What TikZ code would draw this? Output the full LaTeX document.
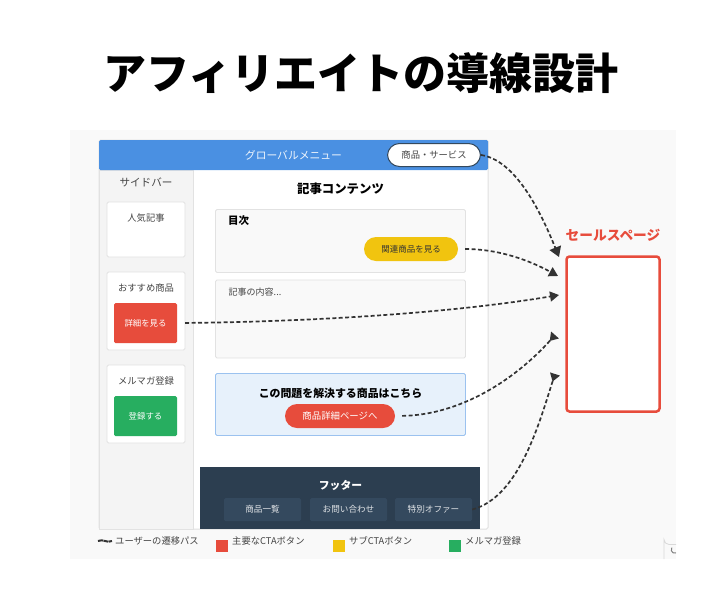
\documentclass[tikz,border=0pt]{standalone}
\usepackage{fontspec}
\setmainfont{Noto Sans CJK JP}
\usepackage{xcolor}
\usepackage{tikz}
\usetikzlibrary{arrows.meta,shapes}
\definecolor{bluehead}{HTML}{4A90E2}
\definecolor{ctared}{HTML}{E74C3C}
\definecolor{ctayellow}{HTML}{F1C40F}
\definecolor{ctagreen}{HTML}{27AE60}
\definecolor{footdark}{HTML}{2C3E50}
\definecolor{footbtn}{HTML}{34495E}
\definecolor{linegray}{HTML}{E2E2E2}
\definecolor{textgray}{HTML}{444444}
\newcommand{\pxfont}[1]{\fontsize{#1}{#1}\selectfont}
\tikzset{
  card/.style={draw=linegray,fill=white,rounded corners=1.5pt,line width=0.8pt,inner sep=0pt},
  softbox/.style={draw=linegray,fill=black!2.5,rounded corners=1.5pt,line width=0.8pt,inner sep=0pt},
  btn/.style={rounded corners=1.5pt,text=white,inner sep=0pt,font=\pxfont{8.4}},
  pill/.style={rounded corners=12pt,inner sep=0pt,font=\pxfont{8.5}},
  foot/.style={fill=footbtn,text=white!85!footbtn,rounded corners=1.5pt,inner sep=0pt,minimum width=77pt,minimum height=23pt,font=\pxfont{8.6}},
  lab/.style={text=textgray,inner sep=0pt,font=\pxfont{9.3}},
  key/.style={inner sep=0pt,minimum size=12pt},
  path/.style={draw=black!80,line width=1.7pt,dash pattern=on 4pt off 2.4pt},
  tip/.style={-{Triangle[length=9pt,width=10pt]}},
  tipbig/.style={-{Triangle[length=10pt,width=12pt]}},
  tipback/.style={-{Triangle[reversed,length=8pt,width=10pt]}}
}
\begin{document}
\begin{tikzpicture}[x=1pt,y=-1pt]
\useasboundingbox (0,0) rectangle (720,600);
\fill[white] (0,0) rectangle (720,600);
\fill[black!2.5] (70,130) rectangle (676,559);
\node (title) at (361,73) {\pxfont{43}\bfseries アフィリエイトの導線設計};

\node (page) [draw=black!12,fill=white,rounded corners=1.5pt,line width=1pt,minimum width=389pt,minimum height=389pt,inner sep=0pt] at (293.5,334.5) {};
\node (sidebar) [draw=linegray,fill=black!4.5,line width=0.6pt,minimum width=94pt,minimum height=359pt,inner sep=0pt] at (146,349.5) {};
\node (header) [fill=bluehead,rounded corners=1.5pt,minimum width=389pt,minimum height=30pt,inner sep=0pt] at (293.5,155) {};
\node (menu) [text=white!90!bluehead,inner sep=0pt,font=\pxfont{10.8}] at (293.5,155) {グローバルメニュー};
\node (service) [pill,draw=footbtn,line width=1pt,fill=white,text=textgray,minimum width=93pt,minimum height=23pt,font=\pxfont{9.3}] at (434,155) {商品・サービス};

\node (sidetitle) [lab,font=\pxfont{10.6}] at (146,182) {サイドバー};
\node (popular) [card,minimum width=78pt,minimum height=55pt] at (146,229.5) {};
\node (populartext) [lab] at (146,218) {人気記事};
\node (recommend) [card,minimum width=78pt,minimum height=78pt] at (146,311) {};
\node (recommendtext) [lab] at (146,288) {おすすめ商品};
\node (detail) [btn,fill=ctared,minimum width=63pt,minimum height=40pt] at (145.5,323) {詳細を見る};
\node (mail) [card,minimum width=78pt,minimum height=78pt] at (146,404) {};
\node (mailtext) [lab] at (146,381) {メルマガ登録};
\node (signup) [btn,fill=ctagreen,minimum width=63pt,minimum height=40pt] at (145.5,416) {登録する};

\node (article) [inner sep=0pt,font=\pxfont{12.4}\bfseries] at (340.5,189) {記事コンテンツ};
\node (toc) [softbox,minimum width=250pt,minimum height=63pt] at (340.5,241) {};
\node (toctext) [inner sep=0pt,font=\pxfont{10.5}\bfseries] at (238.5,221) {目次};
\node (related) [pill,fill=ctayellow,text=black!80,minimum width=94pt,minimum height=24pt] at (411,249) {関連商品を見る};
\node (body) [softbox,minimum width=250pt,minimum height=78pt] at (340.5,319) {};
\node (bodytext) [lab,font=\pxfont{9}] at (255,292) {記事の内容...};
\node (cta) [draw=bluehead!55,fill=bluehead!13,rounded corners=1.5pt,line width=0.8pt,minimum width=250pt,minimum height=62pt,inner sep=0pt] at (340.5,404.5) {};
\node (ctatext) [inner sep=0pt,font=\pxfont{10.9}\bfseries] at (340.5,393) {この問題を解決する商品はこちら};
\node (ctabtn) [pill,fill=ctared,text=white,minimum width=110pt,minimum height=24pt,font=\pxfont{9.4}] at (340,416) {商品詳細ページへ};

\node (footer) [fill=footdark,minimum width=280pt,minimum height=62pt,inner sep=0pt] at (340,498) {};
\node (foottext) [text=white,inner sep=0pt,font=\pxfont{10.8}\bfseries] at (340.5,485) {フッター};
\node (foot1) [foot] at (262.5,509.5) {商品一覧};
\node (foot2) [foot] at (348.5,509.5) {お問い合わせ};
\node (foot3) [foot] at (433.5,509.5) {特別オファー};

\node (sale) [draw=ctared,fill=white,rounded corners=3pt,line width=2.5pt,minimum width=93pt,minimum height=155pt,inner sep=0pt] at (613,334) {};
\node (saletext) [text=ctared,inner sep=0pt,font=\pxfont{13.7}\bfseries] at (613,235) {セールスページ};

\coordinate (in1) at (559,257);
\coordinate (in2) at (558,276);
\coordinate (in3) at (559,295);
\coordinate (in4) at (555,335);
\coordinate (in5) at (555,374);

\draw [path,tipbig] (service.east) .. controls (515,160) and (540,210) .. (in1);
\draw [path,tip,shorten <=7pt] (related.east) .. controls (495,249) and (525,258) .. (in2);
\draw [path,tip,shorten <=8pt] (detail.east) .. controls (290,322) and (440,315) .. (in3);
\draw [path,tipback,shorten <=7pt] (ctabtn.east) .. controls (460,415) and (515,380) .. (in4);
\draw [path,tipback] (foot3.east) .. controls (520,497) and (540,420) .. (in5);

\coordinate (wave1) at (98,541);
\coordinate (wave2) at (112,541);
\draw [path,line width=2pt,dash pattern=on 5pt off 0.6pt] (wave1) .. controls (103,538.5) and (107,543.5) .. (wave2);
\node (legend1) [lab,anchor=west] at (115,541) {ユーザーの遷移パス};
\node (key2) [key,fill=ctared] at (222,546) {};
\node (legend2) [lab,anchor=west] at (232,541) {主要なCTAボタン};
\node (key3) [key,fill=ctayellow] at (339,546) {};
\node (legend3) [lab,anchor=west] at (349,541) {サブCTAボタン};
\node (key4) [key,fill=ctagreen] at (455,546) {};
\node (legend4) [lab,anchor=west] at (465,541) {メルマガ登録};

\draw [draw=black!15,line width=0.8pt] (676,544.5) -- (669,544.5) arc (90:180:5) -- (664,559);
\draw [draw=black!50,line width=1pt] (676,553) arc (70:215:3.6);
\end{tikzpicture}
\end{document}
